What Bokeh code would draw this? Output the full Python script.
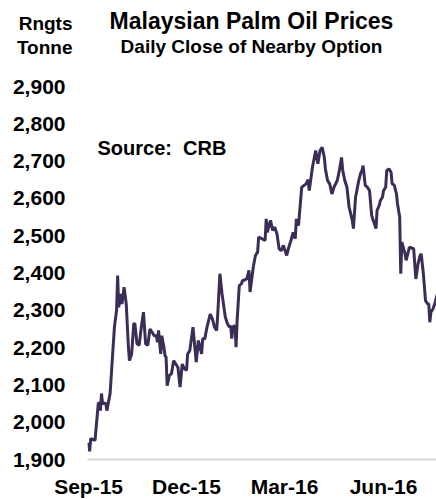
from datetime import datetime
from bokeh.plotting import figure
from bokeh.layouts import column
from bokeh.models import (ColumnDataSource, Range1d, FixedTicker, NumeralTickFormatter,
                          DatetimeTickFormatter, Label)
from bokeh.embed import file_html
from bokeh.resources import INLINE

# ---- data ----
dates = [
    "2015-09-01", "2015-09-02", "2015-09-03", "2015-09-07", "2015-09-10", "2015-09-11", "2015-09-12",
    "2015-09-13", "2015-09-14", "2015-09-17", "2015-09-18", "2015-09-21", "2015-09-25", "2015-09-27",
    "2015-09-28", "2015-09-29", "2015-10-01", "2015-10-02", "2015-10-04", "2015-10-06", "2015-10-08",
    "2015-10-09", "2015-10-11", "2015-10-13", "2015-10-14", "2015-10-16", "2015-10-18", "2015-10-20",
    "2015-10-22", "2015-10-24", "2015-10-26", "2015-10-28", "2015-10-30", "2015-11-01", "2015-11-03",
    "2015-11-04", "2015-11-05", "2015-11-07", "2015-11-08", "2015-11-10", "2015-11-11", "2015-11-12",
    "2015-11-13", "2015-11-15", "2015-11-17", "2015-11-19", "2015-11-21", "2015-11-23", "2015-11-25",
    "2015-11-27", "2015-11-29", "2015-12-01", "2015-12-02", "2015-12-04", "2015-12-07", "2015-12-10",
    "2015-12-12", "2015-12-15", "2015-12-16", "2015-12-18", "2015-12-20", "2015-12-23", "2015-12-25",
    "2015-12-27", "2015-12-29", "2015-12-30", "2016-01-01", "2016-01-03", "2016-01-06", "2016-01-08",
    "2016-01-10", "2016-01-11", "2016-01-12", "2016-01-13", "2016-01-15", "2016-01-16", "2016-01-17",
    "2016-01-19", "2016-01-21", "2016-01-22", "2016-01-23", "2016-01-26", "2016-01-28", "2016-01-29",
    "2016-02-01", "2016-02-03", "2016-02-05", "2016-02-06", "2016-02-09", "2016-02-12", "2016-02-13",
    "2016-02-14", "2016-02-17", "2016-02-19", "2016-02-21", "2016-02-23", "2016-02-25", "2016-02-27",
    "2016-02-29", "2016-03-03", "2016-03-05", "2016-03-07", "2016-03-09", "2016-03-11", "2016-03-12",
    "2016-03-14", "2016-03-17", "2016-03-21", "2016-03-23", "2016-03-24", "2016-03-27", "2016-03-30",
    "2016-04-01", "2016-04-03", "2016-04-05", "2016-04-07", "2016-04-08", "2016-04-10", "2016-04-12",
    "2016-04-14", "2016-04-16", "2016-04-19", "2016-04-21", "2016-04-23", "2016-04-24", "2016-04-26",
    "2016-04-28", "2016-04-30", "2016-05-03", "2016-05-04", "2016-05-06", "2016-05-09", "2016-05-11",
    "2016-05-12", "2016-05-13", "2016-05-15", "2016-05-17", "2016-05-19", "2016-05-21", "2016-05-22",
    "2016-05-25", "2016-05-26", "2016-05-28", "2016-05-29", "2016-05-31", "2016-06-01", "2016-06-03",
    "2016-06-04", "2016-06-06", "2016-06-08", "2016-06-09", "2016-06-11", "2016-06-13", "2016-06-14",
    "2016-06-16", "2016-06-17", "2016-06-18", "2016-06-21", "2016-06-22", "2016-06-25", "2016-06-27",
    "2016-06-29", "2016-06-30", "2016-07-01", "2016-07-03", "2016-07-05", "2016-07-06", "2016-07-08",
    "2016-07-10", "2016-07-12", "2016-07-13", "2016-07-14", "2016-07-15", "2016-07-17", "2016-07-19",
    "2016-07-21",
]
prices = [
    1945, 1922, 1956, 1951, 2050, 2053, 2031,
    2077, 2050, 2051, 2031, 2077, 2255, 2300,
    2393, 2308, 2344, 2317, 2362, 2317, 2201,
    2165, 2183, 2264, 2264, 2210, 2206, 2255,
    2295, 2210, 2206, 2250, 2241, 2232, 2232,
    2214, 2246, 2183, 2232, 2201, 2179, 2174,
    2098, 2125, 2130, 2165, 2156, 2147, 2094,
    2156, 2143, 2139, 2183, 2192, 2255, 2161,
    2219, 2183, 2224, 2224, 2255, 2290, 2277,
    2255, 2246, 2290, 2398, 2344, 2282, 2264,
    2255, 2259, 2224, 2255, 2259, 2201, 2273,
    2366, 2371, 2380, 2380, 2384, 2407, 2349,
    2416, 2447, 2456, 2496, 2492, 2487, 2545,
    2509, 2541, 2514, 2523, 2505, 2465, 2460,
    2474, 2447, 2469, 2487, 2509, 2492, 2545,
    2527, 2630, 2639, 2650, 2621, 2684, 2728,
    2693, 2728, 2737, 2710, 2679, 2648, 2639,
    2612, 2630, 2648, 2675, 2710, 2677, 2648,
    2630, 2577, 2541, 2519, 2603, 2648, 2670,
    2675, 2688, 2635, 2630, 2621, 2554, 2545,
    2519, 2568, 2581, 2594, 2603, 2621, 2630,
    2675, 2679, 2670, 2639, 2635, 2612, 2585,
    2550, 2398, 2483, 2451, 2434, 2469, 2467,
    2465, 2424, 2384, 2424, 2447, 2451, 2398,
    2326, 2317, 2317, 2268, 2295, 2304, 2322,
    2344,
]
x_tick_dates = ["2015-09-01", "2015-12-01", "2016-03-01", "2016-06-01"]
y_ticks = [1900, 2000, 2100, 2200, 2300, 2400, 2500, 2600, 2700, 2800, 2900]

title_text = "Malaysian Palm Oil Prices"
subtitle_text = "Daily Close of Nearby Option"
unit_lines = ["Rngts", "Tonne"]
source_text = "Source:\u00a0 CRB"

FONT = "Liberation Sans"
LEFT = 87        # width of the left (y-axis) band
FRAME_W = 349
HEADER_H = 70

# ---- header band (title block); its frame lines up with the chart's frame ----
hdr = figure(frame_width=FRAME_W, height=HEADER_H,
             x_range=Range1d(LEFT, LEFT + FRAME_W), y_range=Range1d(HEADER_H, 0),
             x_axis_location=None, y_axis_location="left",
             output_backend="svg", toolbar_location=None,
             min_border_left=LEFT, min_border_right=0, min_border_top=0, min_border_bottom=0)
hdr.outline_line_color = None
hdr.grid.grid_line_color = None
unit_pos = [23, 47]
hax = hdr.yaxis[0]
hax.ticker = FixedTicker(ticks=unit_pos)
hax.major_label_overrides = {unit_pos[0]: unit_lines[0], unit_pos[1]: unit_lines[1]}
hax.axis_line_color = None
hax.major_tick_line_color = None
hax.minor_tick_line_color = None
hax.major_tick_out = 0
hax.minor_tick_out = 0
hax.major_label_standoff = 15
hax.major_label_text_font = FONT
hax.major_label_text_font_style = "bold"
hax.major_label_text_font_size = "19px"
hax.major_label_text_color = "black"

def hdr_label(txt, x, y, size):
    hdr.add_layout(Label(x=x, y=y, text=txt, text_font=FONT, text_font_style="bold",
                         text_font_size=size, text_align="center", text_baseline="middle",
                         text_color="black"))

hdr_label(title_text, 251, 20, "23px")
hdr_label(subtitle_text, 251, 46, "19px")

# ---- main chart ----
def ts(s):
    return datetime.strptime(s, "%Y-%m-%d")

def ms(s):
    return (ts(s) - datetime(1970, 1, 1)).total_seconds() * 1000.0

xs = [ts(d) for d in dates]
src = ColumnDataSource(dict(x=xs, y=prices))

DAY = 86400000.0
x_start = ms("2015-09-01") - 1.0 * DAY
x_end = ms("2015-09-01") + 323.2 * DAY

p = figure(frame_width=FRAME_W, frame_height=373, x_axis_type="datetime",
           x_range=Range1d(x_start, x_end), y_range=Range1d(1900, 2900),
           output_backend="svg", toolbar_location=None,
           min_border_left=LEFT, min_border_right=0, min_border_top=16, min_border_bottom=4)
p.outline_line_color = None
p.xgrid.grid_line_color = None
p.ygrid.grid_line_color = None

p.line("x", "y", source=src, line_color="#3b2d55", line_width=3)

# y axis
ya = p.yaxis[0]
ya.ticker = FixedTicker(ticks=y_ticks)
ya.formatter = NumeralTickFormatter(format="0,0")
ya.axis_line_color = None
ya.major_tick_line_color = None
ya.minor_tick_line_color = None
ya.major_tick_out = 0
ya.minor_tick_out = 0
ya.major_label_standoff = 22
ya.major_label_text_font = FONT
ya.major_label_text_font_style = "bold"
ya.major_label_text_font_size = "21px"
ya.major_label_text_color = "black"

# x axis
xa = p.xaxis[0]
xa.ticker = FixedTicker(ticks=[ms(d) for d in x_tick_dates])
xa.formatter = DatetimeTickFormatter(days="%b-%y", months="%b-%y", years="%b-%y")
xa.axis_line_color = "#d9d9d9"
xa.axis_line_width = 2
xa.major_tick_line_color = None
xa.minor_tick_line_color = None
xa.major_tick_out = 0
xa.minor_tick_out = 0
xa.major_label_standoff = 15
xa.major_label_text_font = FONT
xa.major_label_text_font_style = "bold"
xa.major_label_text_font_size = "21px"
xa.major_label_text_color = "black"

p.add_layout(Label(x=10, y=312, x_units="screen", y_units="screen", text=source_text,
                   text_font=FONT, text_font_style="bold", text_font_size="20px",
                   text_align="left", text_baseline="middle", text_color="black"))

layout = column(hdr, p, spacing=0)
open("out.html", "w").write(file_html(layout, INLINE))
